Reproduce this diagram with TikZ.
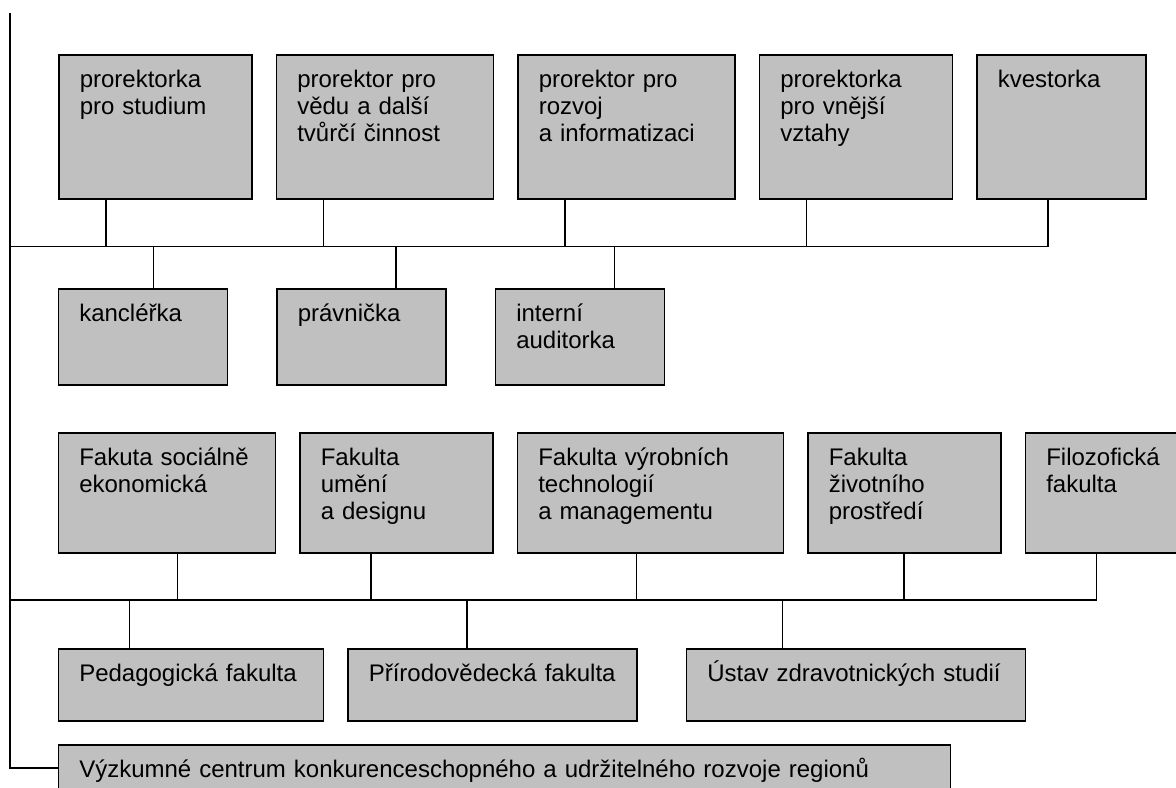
\documentclass[tikz,border=0pt]{standalone}
\usepackage{fontspec}
\setmainfont{Liberation Sans}
\usetikzlibrary{positioning}
\definecolor{boxgray}{RGB}{192,192,192}

\begin{document}
\begin{tikzpicture}[
    x=0.5pt, y=-0.5pt,
    node distance=11.5pt,
    box/.style={rectangle, draw, line width=0.75pt, fill=boxgray, align=left,
        inner xsep=10.5pt, inner ysep=0pt, text height=16.5pt,
        font=\fontsize{12pt}{13.4pt}\selectfont},
    tall/.style={box, text depth=55.5pt},
    mid/.style={box, text depth=31.5pt},
    fac/.style={box, text depth=43.5pt},
    low/.style={box, text depth=19.5pt},
    conn/.style={line width=0.75pt}
]
\useasboundingbox (0,0) rectangle (1176,787);

% Vice-rectors
\node[tall, text width=75.5pt, anchor=north west] (ps) at (58,54) {prorektorka\\pro studium};
\node[tall, text width=87.5pt, right=of ps] (pv) {prorektor pro\\vědu a další\\tvůrčí činnost};
\node[tall, text width=87.5pt, right=of pv] (pr) {prorektor pro\\rozvoj\\a informatizaci};
\node[tall, text width=75.5pt, right=of pr] (pz) {prorektorka\\pro vnější\\vztahy};
\node[tall, text width=63.5pt, right=of pz] (kv) {kvestorka};

% Staff
\node[mid, text width=63.5pt, anchor=north west] (ka) at (57.5,288) {kancléřka};
\node[mid, text width=63.5pt, right=24pt of ka] (pa) {právnička};
\node[mid, text width=63.5pt, right=24pt of pa] (ia) {interní\\auditorka};

% Faculties
\node[fac, text width=87.5pt, anchor=north west] (fse) at (57.5,432) {Fakuta sociálně\\ekonomická};
\node[fac, text width=75.5pt, right=of fse] (fud) {Fakulta\\umění\\a designu};
\node[fac, text width=112pt, right=of fud] (fvt) {Fakulta výrobních\\technologií\\a managementu};
\node[fac, text width=75.5pt, right=of fvt] (fzp) {Fakulta\\životního\\prostředí};
\node[fac, text width=75.5pt, right=of fzp] (ff) {Filozofická\\fakulta};

\node[low, text width=111.5pt, anchor=north west] (pf) at (57.5,648) {Pedagogická fakulta};
\node[low, text width=123.5pt, right=of pf] (prf) {Přírodovědecká fakulta};
\node[low, text width=148.5pt, right=24pt of prf] (uzs) {Ústav zdravotnických studií};

\node[mid, text width=425pt, anchor=north west] (vc) at (57.5,744) {Výzkumné centrum konkurenceschopného a udržitelného rozvoje regionů};

% Lines
\coordinate (top) at (10,13);
\coordinate (bus1) at (10,246.5);
\coordinate (bus3) at (10,600);

\draw[conn] (top) |- ([yshift=-12pt]vc.north west);
\foreach \n/\d in {ps/24pt, pv/24pt, pr/24pt, pz/24pt, kv/36pt}
    \draw[conn] ([xshift=\d]\n.south west) |- (bus1);
\foreach \n/\d in {ka/48pt, pa/60pt, ia/60pt}
    \draw[conn] (bus1) -| ([xshift=\d]\n.north west);
\foreach \n/\d in {fse/60pt, fud/36pt, fvt/60pt, fzp/48.5pt, ff/36pt}
    \draw[conn] ([xshift=\d]\n.south west) |- (bus3);
\foreach \n/\d in {pf/36pt, prf/60pt, uzs/48.5pt}
    \draw[conn] (bus3) -| ([xshift=\d]\n.north west);

\end{tikzpicture}
\end{document}
